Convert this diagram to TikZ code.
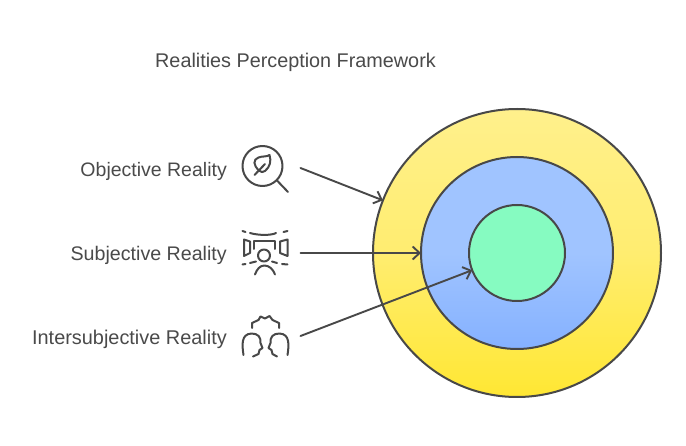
\documentclass[tikz,border=0pt]{standalone}
\usepackage{fontspec}
\setmainfont{Liberation Sans}
\usetikzlibrary{arrows.meta}
\definecolor{ink}{HTML}{484848}
\definecolor{txt}{HTML}{4A4A4A}
\definecolor{ytop}{HTML}{FFF08C}
\definecolor{ymid}{HTML}{FFED70}
\definecolor{ybot}{HTML}{FFE733}
\definecolor{btop}{HTML}{A0C4FF}
\definecolor{bbot}{HTML}{85B1FF}
\definecolor{grn}{HTML}{86FBC1}
\tikzset{
  ring/.style={circle,draw=ink,line width=2pt,inner sep=0pt,outer sep=0pt},
  label/.style={text=txt,anchor=base east,inner sep=0pt},
  heading/.style={text=txt,font=\fontsize{19.8}{22}\selectfont,anchor=base west,inner sep=0pt},
  link/.style={draw=ink,line width=1.9pt,line cap=round,-{Straight Barb[length=7pt,width=13pt,line width=1.9pt]}},
  icon/.style={draw=ink,line width=2pt,line cap=round,line join=round}
}
\begin{document}
\begin{tikzpicture}[x=1pt,y=-1pt]
\useasboundingbox (0,0) rectangle (686,446);
\fill[white] (0,0) rectangle (686,446);
\node[heading] (title) at (155,68) {Realities Perception Framework};
\node[ring,minimum size=288pt,top color=ytop,bottom color=ybot,middle color=ymid] (outer) at (517,253) {};
\node[ring,minimum size=192pt,top color=btop,bottom color=bbot,middle color=btop] (mid) at (517,253) {};
\node[ring,minimum size=96pt,fill=grn] (inner) at (517,253) {};
\node[label,font=\fontsize{19.5}{22}\selectfont] (l1) at (227,176.2) {Objective Reality};
\node[label,font=\fontsize{19.65}{22}\selectfont] (l2) at (227,260.2) {Subjective Reality};
\node[label,font=\fontsize{19.9}{22}\selectfont] (l3) at (227,344.2) {Intersubjective Reality};
\coordinate (a1) at (300.5,168);
\coordinate (a2) at (300.5,253);
\coordinate (a3) at (300.5,336);
\draw[link] (a1) -- (outer);
\draw[link] (a2) -- (mid);
\draw[link] (a3) -- (inner);
% leaf magnifier
\draw[icon] (262.5,166) circle (20);
\draw[icon] (277,180.5) -- (288,192);
\draw[icon] (254.5,175) -- (265,164);
\draw[icon] (259,170.5) .. controls (253,165) and (253,159.5) .. (258.5,157.5) .. controls (262,156) and (267,157) .. (269.5,155) .. controls (271.5,161) and (270,167) .. (265,171) .. controls (263,172.5) and (261,172.5) .. (259,170.5);
% viewer
\draw[icon] (242.5,231) -- (245.5,232);
\draw[icon] (250,233) .. controls (258,235.5) and (272,235.5) .. (276,233);
\draw[icon] (283.5,232) -- (287.5,231);
\draw[icon] (244,239.5) -- (250,241.5) -- (250,253) -- (244,256) -- cycle;
\draw[icon] (287.5,239.5) -- (280,241.5) -- (280,253) -- (287.5,256) -- cycle;
\draw[icon] (254,249) -- (254,241.5) -- (275,241.5) -- (275,249);
\draw[icon] (264,255.5) circle (6);
\draw[icon] (242.5,264.5) -- (245.5,264);
\draw[icon] (250,263) -- (256,261.5);
\draw[icon] (272,261.5) -- (277,263);
\draw[icon] (282,264) -- (287.5,264.5);
\draw[icon] (255,274.5) .. controls (257,269) and (260,265.5) .. (264.5,265.5) .. controls (269,265.5) and (273,269) .. (275,274.5);
% crowd
\draw[icon] (252,328) -- (252,323) -- (258.5,320) -- (260.5,316.5) -- (265,318.5) -- (269.5,316) -- (272.5,320) -- (279,323) -- (279,328);
\draw[icon] (243.5,355) .. controls (242,345) and (241,334) .. (251.5,333.5) .. controls (258,333.5) and (261,337) .. (260.5,343) -- (262.5,348) -- (259.5,350) -- (258.5,354) -- (253,356.5);
\draw[icon] (287.5,355) .. controls (289,345) and (290,334) .. (279.5,333.5) .. controls (273,333.5) and (270,337) .. (270.5,343) -- (268.5,348) -- (271.5,350) -- (272.5,354) -- (277,356.5);
\end{tikzpicture}
\end{document}
